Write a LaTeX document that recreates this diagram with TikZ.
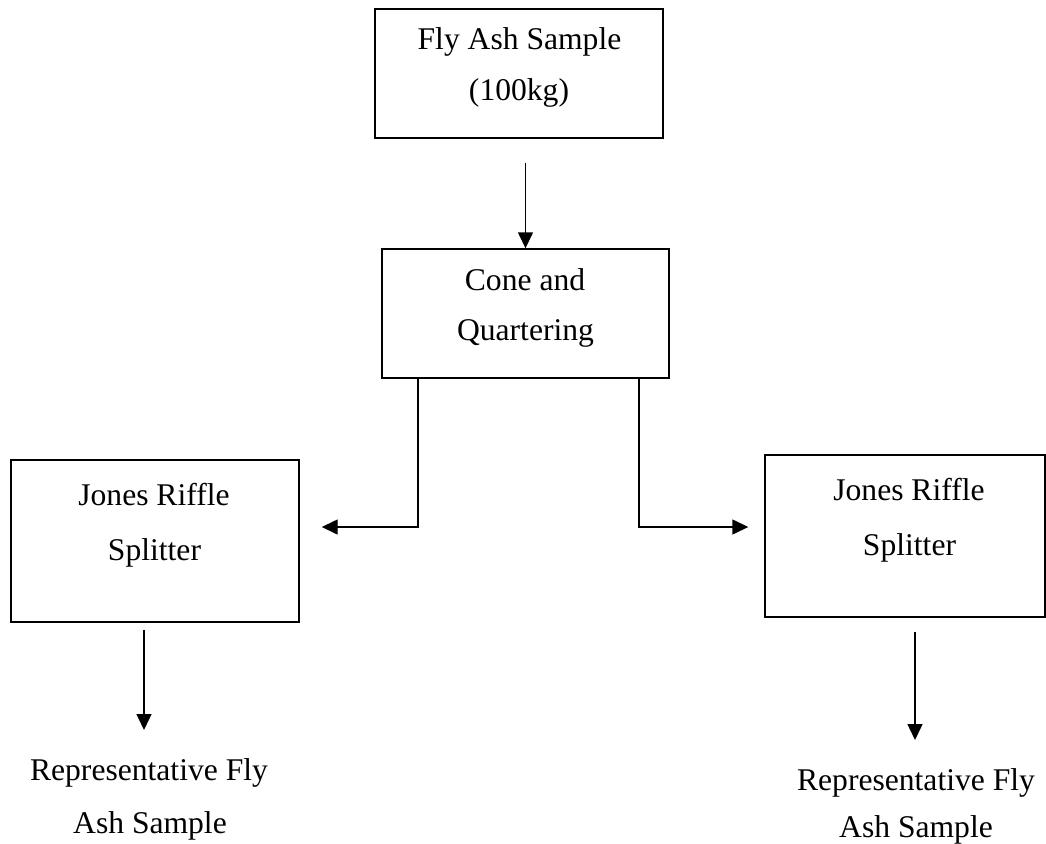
\documentclass[tikz,border=0pt]{standalone}
\usepackage{fontspec}
\setmainfont{Liberation Serif}
\usetikzlibrary{arrows.meta,calc}

\tikzset{
  box/.style={draw=black, line width=1.4pt, rectangle, inner sep=0pt},
  txt/.style={anchor=base, inner sep=0pt, font=\fontsize{31.6}{38}\selectfont},
  arr/.style={draw=black, line width=1.4pt, -{Triangle[length=16pt,width=15pt]}},
}

\begin{document}
\begin{tikzpicture}[x=1pt, y=-1pt]
  \useasboundingbox (0,0) rectangle (1046,843);

  % process boxes
  \node[box, minimum width=288pt, minimum height=129pt] (fly)  at (519,73.5)  {};
  \node[box, minimum width=287pt, minimum height=129pt] (cone) at (525.5,313.5) {};
  \node[box, minimum width=288pt, minimum height=162pt] (jl)   at (155,541)   {};
  \node[box, minimum width=280pt, minimum height=162pt] (jr)   at (905,536)   {};

  % box captions
  \node[txt] (flyA)  at (519.5,49) {Fly Ash Sample};
  \node[txt] (flyB)  at (519,100)  {(100kg)};
  \node[txt] (coneA) at (525,290)  {Cone and};
  \node[txt] (coneB) at (525.5,340) {Quartering};
  \node[txt] (jlA)   at (154,505)  {Jones Riffle};
  \node[txt] (jlB)   at (154.5,560) {Splitter};
  \node[txt] (jrA)   at (909,500)  {Jones Riffle};
  \node[txt] (jrB)   at (909.5,555) {Splitter};

  % final products
  \node[txt] (outLA) at (149,780) {Representative Fly};
  \node[txt] (outLB) at (150,833) {Ash Sample};
  \node[txt] (outRA) at (916,790) {Representative Fly};
  \node[txt] (outRB) at (916,837) {Ash Sample};

  % arrow ends above the product labels
  \coordinate (lend) at (144,730);
  \coordinate (rend) at (915,740);

  % sample -> cone and quartering
  \draw[arr, shorten <=24pt] (cone.north |- fly.south) -- (cone.north);

  % cone and quartering -> riffle splitters
  \draw[arr] ($(cone.south)+(-107.5,0)$) |- ($(jl.east)+(22,-14)$);
  \draw[arr] ($(cone.south)+(113.5,0)$) |- ($(jr.west)+(-16,-9)$);

  % riffle splitters -> representative samples
  \draw[arr] ($(jl.south)+(-11,7)$) -- (lend);
  \draw[arr] ($(jr.south)+(10,14)$) -- (rend);
\end{tikzpicture}
\end{document}
